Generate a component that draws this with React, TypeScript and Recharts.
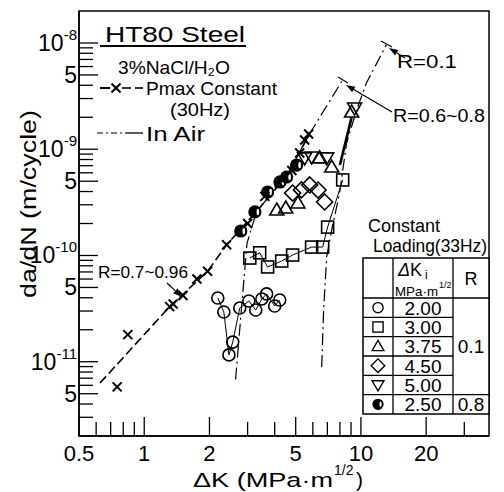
import React from 'react';
import { ScatterChart, Scatter, XAxis, YAxis } from 'recharts';

const FONT = '"Liberation Sans", Arial, sans-serif';

// axis ticks
const xTicks = [0.5, 0.6, 0.7, 0.8, 0.9, 1, 2, 3, 4, 5, 6, 7, 8, 9, 10, 20, 30];
const xTickLabels = ['0.5', '1', '2', '5', '10', '20'];

const yTicks = [
  3e-12, 4e-12, 5e-12, 6e-12, 7e-12, 8e-12, 9e-12,
  1e-11, 2e-11, 3e-11, 4e-11, 5e-11, 6e-11, 7e-11, 8e-11, 9e-11,
  1e-10, 2e-10, 3e-10, 4e-10, 5e-10, 6e-10, 7e-10, 8e-10, 9e-10,
  1e-9, 2e-9, 3e-9, 4e-9, 5e-9, 6e-9, 7e-9, 8e-9, 9e-9,
  1e-8,
];
const yTickValues = [1e-8, 5e-9, 1e-9, 5e-10, 1e-10, 5e-11, 1e-11, 5e-12];
const yTickBases = ['10', '5', '10', '5', '10', '5', '10', '5'];
const yTickExps = ['-8', '', '-9', '', '-10', '', '-11', ''];

// Pmax constant in 3%NaCl (x markers)
const pmaxK = [0.75, 0.84, 1.31, 1.36, 1.51, 1.75, 1.96, 2.4, 3.0, 3.6, 4.2, 4.8, 5.22, 5.5, 5.74];
const pmaxRate = [5.8e-12, 1.8e-11, 3.3e-11, 3.5e-11, 4.2e-11, 6.0e-11, 7.1e-11, 1.26e-10, 2.0e-10, 3.6e-10, 4.8e-10, 6.3e-10, 9.2e-10, 1.22e-9, 1.39e-9];
// dashed trend through them
const pmaxLineK = [0.625, 1.31, 1.96, 2.4, 3.3, 4.5, 5.8];
const pmaxLineRate = [6.3e-12, 3.3e-11, 7.1e-11, 1.26e-10, 2.6e-10, 5.5e-10, 1.4e-9];

// in air, R=0.6~0.8 (dash-dot)
const airHighRK = [2.64, 2.8, 2.98, 3.3, 4.5, 5.8, 8.24];
const airHighRRate = [6.8e-12, 2.9e-11, 1.3e-10, 2.6e-10, 5.5e-10, 1.4e-9, 4.5e-9];
// in air, R=0.1 (dash-dot)
const airLowRK = [6.59, 6.73, 6.95, 7.33, 7.97, 8.59, 9.55, 10.6, 13.1];
const airLowRRate = [8.9e-12, 3.1e-11, 9.7e-11, 1.74e-10, 3.87e-10, 1.15e-9, 2.34e-9, 4.2e-9, 9.6e-9];

// constant loading (33Hz)
const circK = [2.185, 2.33, 2.46, 2.56, 2.76, 3.04, 3.27, 3.49, 3.67, 4.0, 4.22];
const circRate = [3.98e-11, 2.94e-11, 1.16e-11, 1.53e-11, 3.2e-11, 3.73e-11, 3.07e-11, 3.9e-11, 4.35e-11, 3.35e-11, 3.81e-11];

const sqK = [3.07, 3.41, 3.71, 4.31, 4.84, 5.92, 6.66, 7.02, 8.24];
const sqRate = [9.46e-11, 1.06e-10, 7.8e-11, 8.87e-11, 1.01e-10, 1.2e-10, 1.2e-10, 1.85e-10, 5.14e-10];

const triK = [4.09, 4.5, 5.12, 6.45, 7.33, 9.06];
const triRate = [2.68e-10, 2.8e-10, 3.12e-10, 8.3e-10, 6.8e-10, 2.24e-9];

const diaK = [4.84, 5.31, 5.8, 6.34, 6.8];
const diaRate = [3.87e-10, 4.14e-10, 4.61e-10, 4.13e-10, 3.19e-10];

const triDownK = [5.5, 5.92, 6.95, 9.35];
const triDownRate = [8.3e-10, 8.45e-10, 8.3e-10, 2.44e-9];

const halfK = [2.79, 3.24, 3.71, 4.23, 4.54, 5.05];
const halfRate = [1.7e-10, 2.57e-10, 3.96e-10, 4.92e-10, 5.48e-10, 7.1e-10];

// heavy solid segment where the curves join the R=0.1 line
const joinK = [8.0, 9.06];
const joinRate = [7.1e-10, 2.0e-9];

const pts = (ks: number[], rates: number[]) => ks.map((x, i) => ({ x, y: rates[i] }));

const NoMark = () => <g />;

const Cross = ({ cx, cy }: any) => {
  const s = 4.5;
  return (
    <g stroke="#000" strokeWidth={2}>
      <line x1={cx - s} y1={cy - s} x2={cx + s} y2={cy + s} />
      <line x1={cx - s} y1={cy + s} x2={cx + s} y2={cy - s} />
    </g>
  );
};
const OpenCircle = ({ cx, cy }: any) => (
  <circle cx={cx} cy={cy} r={6} fill="none" stroke="#000" strokeWidth={1.6} />
);
const Square = ({ cx, cy }: any) => (
  <rect x={cx - 6} y={cy - 6} width={12} height={12} fill="none" stroke="#000" strokeWidth={1.6} />
);
const TriUp = ({ cx, cy }: any) => (
  <polygon points={`${cx},${cy - 7} ${cx + 7},${cy + 5} ${cx - 7},${cy + 5}`} fill="none" stroke="#000" strokeWidth={1.6} />
);
const TriDown = ({ cx, cy }: any) => (
  <polygon points={`${cx},${cy + 7} ${cx + 7},${cy - 5} ${cx - 7},${cy - 5}`} fill="none" stroke="#000" strokeWidth={1.6} />
);
const Diamond = ({ cx, cy }: any) => (
  <polygon points={`${cx},${cy - 8} ${cx + 8},${cy} ${cx},${cy + 8} ${cx - 8},${cy}`} fill="none" stroke="#000" strokeWidth={1.6} />
);
const HalfFilled = ({ cx, cy }: any) => (
  <g>
    <circle cx={cx} cy={cy} r={6} fill="#000" stroke="#000" strokeWidth={1.2} />
    <ellipse cx={cx + 3} cy={cy} rx={1.3} ry={3.2} fill="#fff" />
  </g>
);

const XTick = ({ x, y, payload }: any) => {
  const label = String(payload.value);
  const major = xTickLabels.includes(label);
  return (
    <g>
      <line x1={x} y1={y} x2={x} y2={y - (major ? 19 : 14)} stroke="#000" strokeWidth={1.3} />
      {major && (
        <text x={x} y={y + 25} textAnchor="middle" fontSize={22} fontFamily={FONT} fill="#000">
          {label}
        </text>
      )}
    </g>
  );
};

const YTick = ({ x, y, payload }: any) => {
  const idx = yTickValues.findIndex((v) => Math.abs(payload.value / v - 1) < 1e-6);
  const major = idx >= 0;
  return (
    <g>
      <line x1={x} y1={y} x2={x + (major ? 19 : 14)} y2={y} stroke="#000" strokeWidth={1.3} />
      {major && (
        <text x={x - 2} y={y + 8} textAnchor="end" fontSize={23} fontFamily={FONT} fill="#000">
          {yTickBases[idx]}
          {yTickExps[idx] && (
            <tspan dy={-11} fontSize={15}>{yTickExps[idx]}</tspan>
          )}
        </text>
      )}
    </g>
  );
};

const Arrow = ({ x1, y1, x2, y2 }: any) => {
  const a = Math.atan2(y2 - y1, x2 - x1);
  const L = 9;
  const W = 3.2;
  const bx = x2 - L * Math.cos(a);
  const by = y2 - L * Math.sin(a);
  const px = -Math.sin(a) * W;
  const py = Math.cos(a) * W;
  return (
    <g>
      <line x1={x1} y1={y1} x2={bx} y2={by} stroke="#000" strokeWidth={1.2} />
      <polygon points={`${x2},${y2} ${bx + px},${by + py} ${bx - px},${by - py}`} fill="#000" />
    </g>
  );
};

const tableRowsK = ['2.00', '3.00', '3.75', '4.50', '5.00', '2.50'];
const tableSymbols = [OpenCircle, Square, TriUp, Diamond, TriDown, HalfFilled];

const Overlay = () => {
  const tx = 363, ty = 258, tw = 126, th = 156, headH = 40;
  const rowH = (th - headH) / 6;
  const c1 = 393, c2 = 453;
  return (
    <svg width={504} height={492} style={{ position: 'absolute', left: 0, top: 0, pointerEvents: 'none' }} fontFamily={FONT}>
      {/* frame */}
      <rect x={79} y={11} width={410} height={425} fill="none" stroke="#000" strokeWidth={1.5} />

      {/* title + legend */}
      <text x={105} y={42} fontSize={22} textLength={140} lengthAdjust="spacingAndGlyphs">HT80 Steel</text>
      <line x1={100} y1={46} x2={246} y2={46} stroke="#000" strokeWidth={1.8} />
      <text x={118} y={74} fontSize={19} textLength={112} lengthAdjust="spacingAndGlyphs">3%NaCl/H₂O</text>

      <line x1={100} y1={88} x2={110} y2={88} stroke="#000" strokeWidth={2} />
      <Cross cx={116} cy={88} />
      <line x1={122} y1={88} x2={131} y2={88} stroke="#000" strokeWidth={1.6} />
      <line x1={135} y1={88} x2={143} y2={88} stroke="#000" strokeWidth={1.6} />
      <text x={146} y={95} fontSize={19} textLength={131} lengthAdjust="spacingAndGlyphs">Pmax Constant</text>
      <text x={170} y={116} fontSize={18.5} textLength={60} lengthAdjust="spacingAndGlyphs">(30Hz)</text>

      <line x1={97} y1={133} x2={126} y2={133} stroke="#000" strokeWidth={1.2} strokeDasharray="6 3 2 3" />
      <line x1={126} y1={133} x2={143} y2={133} stroke="#000" strokeWidth={1.3} />
      <text x={146} y={141} fontSize={19.5} textLength={59} lengthAdjust="spacingAndGlyphs">In Air</text>

      {/* curve labels */}
      <line x1={381} y1={41} x2={392} y2={47} stroke="#000" strokeWidth={1.2} />
      <Arrow x1={405} y1={58} x2={389} y2={48} />
      <text x={397} y={68} fontSize={18} textLength={60} lengthAdjust="spacingAndGlyphs">R=0.1</text>

      <line x1={338} y1={77} x2={348} y2={83} stroke="#000" strokeWidth={1.2} />
      <Arrow x1={392} y1={112} x2={346} y2={85} />
      <text x={393} y={122} fontSize={18} textLength={92} lengthAdjust="spacingAndGlyphs">R=0.6~0.8</text>

      <text x={98} y={278} fontSize={17} textLength={90} lengthAdjust="spacingAndGlyphs">R=0.7~0.96</text>
      <Arrow x1={167} y1={283} x2={182} y2={297} />

      <text x={368} y={232} fontSize={19} textLength={72} lengthAdjust="spacingAndGlyphs">Constant</text>
      <text x={373} y={252} fontSize={19} textLength={114} lengthAdjust="spacingAndGlyphs">Loading(33Hz)</text>

      {/* table */}
      <rect x={tx} y={ty} width={tw} height={th} fill="#fff" stroke="#000" strokeWidth={1.5} />
      <line x1={c1} y1={ty} x2={c1} y2={ty + th} stroke="#000" strokeWidth={1.3} />
      <line x1={c2} y1={ty} x2={c2} y2={ty + th} stroke="#000" strokeWidth={1.3} />
      <line x1={tx} y1={ty + headH} x2={tx + tw} y2={ty + headH} stroke="#000" strokeWidth={1.3} />
      {[1, 2, 3, 4].map((k) => (
        <line key={k} x1={tx} y1={ty + headH + k * rowH} x2={c2} y2={ty + headH + k * rowH} stroke="#000" strokeWidth={1.3} />
      ))}
      <line x1={tx} y1={ty + headH + 5 * rowH} x2={tx + tw} y2={ty + headH + 5 * rowH} stroke="#000" strokeWidth={1.3} />

      <text x={398} y={276} fontSize={18}>
        <tspan fontStyle="italic">Δ</tspan>K
      </text>
      <text x={425} y={279} fontSize={12}>i</text>
      <text x={395} y={296} fontSize={13.5} textLength={43} lengthAdjust="spacingAndGlyphs">MPa·m</text>
      <text x={439} y={288} fontSize={9}>1/2</text>
      <text x={471} y={285} fontSize={18} textAnchor="middle">R</text>

      {tableRowsK.map((k, i) => {
        const cy = ty + headH + (i + 0.5) * rowH;
        const Sym = tableSymbols[i];
        return (
          <g key={k + i}>
            <g transform={`translate(${(tx + c1) / 2},${cy}) scale(0.85) translate(${-(tx + c1) / 2},${-cy})`}>
              <Sym cx={(tx + c1) / 2} cy={cy} />
            </g>
            <text x={(c1 + c2) / 2} y={cy + 7} fontSize={19} textAnchor="middle">{k}</text>
          </g>
        );
      })}
      <text x={471} y={ty + headH + 2.5 * rowH + 7} fontSize={19} textAnchor="middle">0.1</text>
      <text x={471} y={ty + headH + 5.5 * rowH + 7} fontSize={19} textAnchor="middle">0.8</text>

      {/* axis titles */}
      <text x={193} y={487} fontSize={21} textLength={140} lengthAdjust="spacingAndGlyphs">
        ΔK (MPa·m
      </text>
      <text x={334} y={475} fontSize={14}>1/2</text>
      <text x={356} y={487} fontSize={21}>)</text>

      <text transform="translate(36,204) rotate(-90)" textAnchor="middle" fontSize={22} textLength={188} lengthAdjust="spacingAndGlyphs">
        da/dN (m/cycle)
      </text>
    </svg>
  );
};

const thin = { stroke: '#000', strokeWidth: 1 };

export default function App() {
  return (
    <div style={{ position: 'absolute', left: 0, top: 0, width: 504, height: 492, background: '#fff' }}>
      <ScatterChart width={504} height={492} margin={{ top: 11, right: 15, left: 0, bottom: 0 }}>
        <XAxis
          dataKey="x"
          type="number"
          scale="log"
          domain={[0.5, 39]}
          allowDataOverflow
          ticks={xTicks}
          interval={0}
          tickLine={false}
          tickSize={0}
          tickMargin={0}
          tick={(p: any) => <XTick {...p} />}
          axisLine={{ stroke: '#000', strokeWidth: 1.5 }}
          height={56}
        />
        <YAxis
          dataKey="y"
          type="number"
          scale="log"
          domain={[2e-12, 2e-8]}
          allowDataOverflow
          ticks={yTicks}
          interval={0}
          tickLine={false}
          tickSize={0}
          tickMargin={0}
          tick={(p: any) => <YTick {...p} />}
          axisLine={{ stroke: '#000', strokeWidth: 1.5 }}
          width={79}
        />
        <Scatter data={pts(pmaxLineK, pmaxLineRate)} shape={NoMark} line={{ stroke: '#000', strokeWidth: 1.6, strokeDasharray: '9 4' }} isAnimationActive={false} />
        <Scatter data={pts(airHighRK, airHighRRate)} shape={NoMark} line={{ stroke: '#000', strokeWidth: 1.2, strokeDasharray: '12 4 2 4' }} isAnimationActive={false} />
        <Scatter data={pts(airLowRK, airLowRRate)} shape={NoMark} line={{ stroke: '#000', strokeWidth: 1.2, strokeDasharray: '12 4 2 4' }} isAnimationActive={false} />
        <Scatter data={pts(joinK, joinRate)} shape={NoMark} line={{ stroke: '#000', strokeWidth: 2.6 }} isAnimationActive={false} />
        <Scatter data={pts(circK, circRate)} shape={(p: any) => <OpenCircle {...p} />} line={thin} isAnimationActive={false} />
        <Scatter data={pts(sqK, sqRate)} shape={(p: any) => <Square {...p} />} line={thin} isAnimationActive={false} />
        <Scatter data={pts(triK, triRate)} shape={(p: any) => <TriUp {...p} />} isAnimationActive={false} />
        <Scatter data={pts(diaK, diaRate)} shape={(p: any) => <Diamond {...p} />} isAnimationActive={false} />
        <Scatter data={pts(triDownK, triDownRate)} shape={(p: any) => <TriDown {...p} />} isAnimationActive={false} />
        <Scatter data={pts(halfK, halfRate)} shape={(p: any) => <HalfFilled {...p} />} isAnimationActive={false} />
        <Scatter data={pts(pmaxK, pmaxRate)} shape={(p: any) => <Cross {...p} />} isAnimationActive={false} />
      </ScatterChart>
      <Overlay />
    </div>
  );
}
